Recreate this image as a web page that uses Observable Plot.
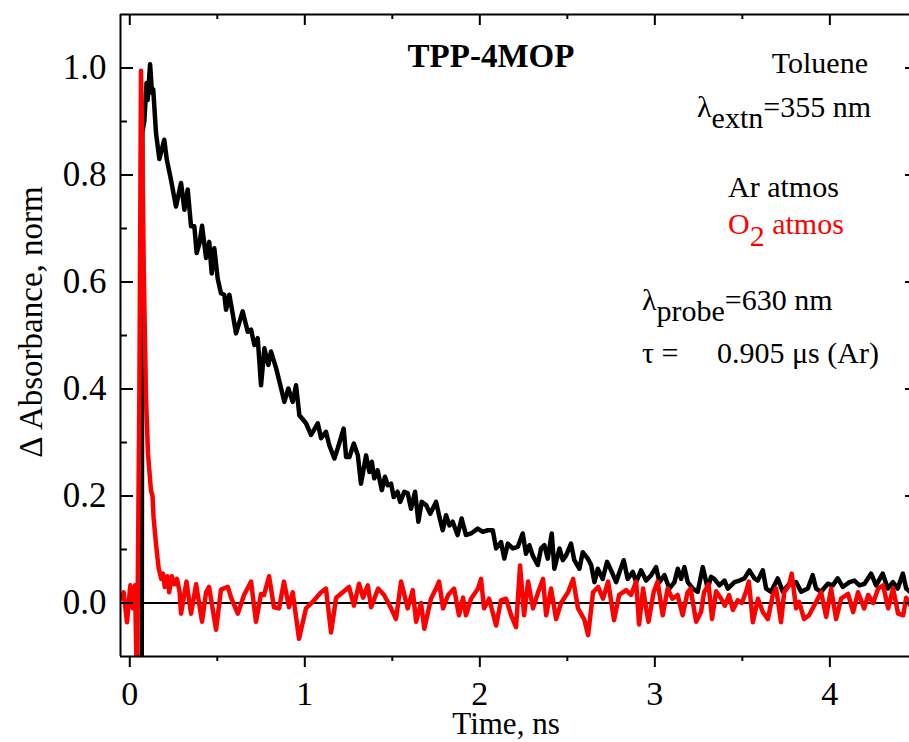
<!DOCTYPE html>
<html><head><meta charset="utf-8">
<script src="https://cdn.jsdelivr.net/npm/d3@7"></script>
<script src="https://cdn.jsdelivr.net/npm/@observablehq/plot@0.6"></script>
<style>body{margin:0;background:#fff}</style>
</head><body><div id="chart"></div>
<script>
// Ar atmosphere trace (black): [time ns, ΔA norm]
const argonTrace = [
[0.068,-0.2],[0.072,0.88],[0.083,0.90],[0.096,0.972],[0.102,0.94],[0.116,1.007],[0.127,0.953],[0.134,0.96],[0.150,0.878],[0.169,0.83],
[0.197,0.866],[0.211,0.83],[0.236,0.79],[0.264,0.741],[0.293,0.785],[0.312,0.735],[0.331,0.773],[0.350,0.704],[0.369,0.704],[0.382,0.654],
[0.398,0.672],[0.413,0.705],[0.436,0.645],[0.454,0.675],[0.468,0.616],[0.483,0.663],[0.502,0.607],[0.521,0.579],[0.540,0.576],[0.550,0.548],
[0.569,0.576],[0.588,0.541],[0.607,0.504],[0.645,0.545],[0.674,0.507],[0.693,0.511],[0.712,0.482],[0.731,0.495],[0.750,0.407],[0.769,0.476],
[0.792,0.445],[0.807,0.47],[0.836,0.439],[0.855,0.414],[0.883,0.376],[0.906,0.401],[0.931,0.376],[0.950,0.407],[0.969,0.351],[1.007,0.336],
[1.036,0.314],[1.074,0.336],[1.093,0.308],[1.121,0.32],[1.140,0.295],[1.169,0.27],[1.188,0.289],[1.222,0.326],[1.236,0.273],[1.255,0.273],
[1.280,0.298],[1.303,0.276],[1.321,0.223],[1.350,0.276],[1.369,0.245],[1.383,0.264],[1.397,0.233],[1.416,0.248],[1.440,0.211],[1.458,0.236],
[1.474,0.22],[1.493,0.223],[1.508,0.198],[1.530,0.208],[1.545,0.189],[1.569,0.208],[1.588,0.205],[1.607,0.176],[1.630,0.208],[1.649,0.152],
[1.668,0.189],[1.693,0.183],[1.717,0.167],[1.750,0.189],[1.769,0.161],[1.788,0.136],[1.807,0.164],[1.826,0.145],[1.845,0.152],[1.873,0.127],
[1.896,0.158],[1.921,0.127],[1.950,0.13],[1.988,0.139],[2.017,0.133],[2.045,0.136],[2.074,0.136],[2.093,0.102],[2.121,0.114],[2.140,0.083],
[2.160,0.111],[2.188,0.102],[2.217,0.105],[2.245,0.13],[2.264,0.092],[2.283,0.108],[2.302,0.089],[2.331,0.071],[2.350,0.102],[2.369,0.108],
[2.388,0.083],[2.411,0.13],[2.426,0.064],[2.455,0.102],[2.474,0.08],[2.493,0.089],[2.521,0.111],[2.540,0.08],[2.569,0.064],[2.588,0.095],
[2.617,0.083],[2.636,0.071],[2.655,0.039],[2.674,0.064],[2.702,0.045],[2.727,0.077],[2.750,0.061],[2.779,0.039],[2.798,0.058],[2.822,0.08],
[2.845,0.045],[2.874,0.058],[2.893,0.039],[2.921,0.061],[2.950,0.042],[2.979,0.052],[3.007,0.067],[3.026,0.039],[3.055,0.052],[3.083,0.027],
[3.112,0.039],[3.131,0.064],[3.150,0.045],[3.169,0.067],[3.188,0.039],[3.217,0.027],[3.245,0.021],[3.274,0.067],[3.302,0.027],[3.321,0.049],
[3.340,0.045],[3.369,0.033],[3.398,0.042],[3.417,0.027],[3.455,0.039],[3.483,0.042],[3.512,0.046],[3.540,0.061],[3.569,0.046],[3.588,0.042],
[3.617,0.061],[3.636,0.027],[3.664,0.021],[3.702,0.046],[3.731,0.021],[3.769,0.036],[3.807,0.039],[3.836,0.021],[3.874,0.027],[3.902,0.052],
[3.921,0.027],[3.950,0.021],[3.988,0.036],[4.017,0.033],[4.045,0.046],[4.074,0.03],[4.112,0.039],[4.140,0.042],[4.169,0.033],[4.198,0.036],
[4.236,0.055],[4.264,0.033],[4.302,0.055],[4.331,0.027],[4.360,0.039],[4.388,0.027],[4.417,0.055],[4.436,0.027],[4.458,0.021]
];
// O2 atmosphere trace (red): [time ns, ΔA norm]
const oxygenTrace = [
[-0.05,0.008],[-0.035,0.02],[-0.016,-0.036],[0.003,0.033],[0.017,-0.01],[0.030,0.033],[0.041,-0.16],[0.055,0.4],[0.064,0.995],[0.072,0.85],
[0.080,0.62],[0.093,0.38],[0.104,0.28],[0.121,0.21],[0.130,0.20],[0.136,0.16],[0.150,0.11],[0.165,0.065],[0.180,0.045],[0.190,0.055],
[0.200,0.03],[0.215,0.05],[0.225,0.02],[0.240,0.05],[0.255,0.035],[0.270,0.045],[0.285,0.02],[0.293,-0.02],[0.324,0.04],[0.350,-0.02],
[0.379,0.035],[0.413,-0.035],[0.436,0.02],[0.453,0.03],[0.493,-0.05],[0.521,0.025],[0.560,0.03],[0.579,0.01],[0.617,-0.02],[0.653,0.015],
[0.693,0.04],[0.721,-0.035],[0.750,0.017],[0.767,0.015],[0.796,0.05],[0.824,-0.008],[0.853,-0.01],[0.881,0.04],[0.910,-0.008],[0.931,0.02],
[0.967,-0.067],[1.007,-0.01],[1.053,0.005],[1.093,0.02],[1.121,0.027],[1.150,-0.055],[1.179,0.01],[1.217,0.02],[1.253,0.03],[1.281,-0.005],
[1.310,0.036],[1.333,0.01],[1.360,0.033],[1.379,-0.008],[1.419,0.027],[1.453,0.015],[1.493,-0.01],[1.521,-0.03],[1.550,0.04],[1.588,-0.01],
[1.617,0.024],[1.636,-0.035],[1.664,0.0],[1.683,-0.048],[1.721,0.008],[1.750,0.027],[1.767,0.04],[1.790,-0.01],[1.819,0.015],[1.853,0.027],
[1.881,-0.023],[1.904,0.01],[1.921,-0.023],[1.950,0.008],[1.990,0.027],[2.007,0.045],[2.024,-0.01],[2.053,0.008],[2.093,-0.042],[2.121,0.005],
[2.150,0.008],[2.179,-0.023],[2.207,-0.045],[2.230,0.07],[2.253,-0.023],[2.276,0.04],[2.304,-0.01],[2.333,0.02],[2.361,0.045],[2.379,-0.023],
[2.407,0.027],[2.436,-0.03],[2.464,0.0],[2.504,0.02],[2.533,0.045],[2.561,-0.01],[2.596,-0.03],[2.619,-0.06],[2.647,0.02],[2.676,0.03],
[2.704,0.008],[2.733,0.04],[2.767,-0.032],[2.796,0.015],[2.836,0.024],[2.864,0.015],[2.893,0.04],[2.910,-0.04],[2.933,0.027],[2.950,-0.01],
[2.964,-0.035],[2.993,0.02],[3.016,0.04],[3.045,-0.023],[3.073,0.027],[3.100,0.008],[3.130,0.015],[3.159,-0.023],[3.187,0.02],[3.204,0.027],
[3.236,-0.035],[3.264,-0.017],[3.281,0.02],[3.307,0.035],[3.327,-0.03],[3.350,0.022],[3.379,0.008],[3.400,-0.005],[3.424,0.015],[3.446,-0.013],
[3.474,0.005],[3.497,0.0],[3.520,0.02],[3.537,0.04],[3.560,-0.036],[3.589,0.008],[3.617,-0.017],[3.646,-0.03],[3.674,0.015],[3.693,0.027],
[3.721,-0.036],[3.739,0.02],[3.767,0.033],[3.782,0.055],[3.807,-0.01],[3.824,0.002],[3.853,-0.03],[3.881,-0.023],[3.910,-0.005],[3.950,0.02],
[3.979,-0.026],[4.007,0.027],[4.036,-0.03],[4.064,0.008],[4.104,0.017],[4.133,-0.017],[4.161,0.02],[4.196,-0.01],[4.219,0.015],[4.247,0.0],
[4.276,0.027],[4.304,0.033],[4.333,-0.01],[4.361,0.027],[4.390,-0.02],[4.419,-0.023],[4.436,0.01],[4.459,-0.004]
];
const xMajorTicks = [0, 1, 2, 3, 4];
const xMinorTicks = [0.5, 1.5, 2.5, 3.5];
const yMajorTicks = [0.0, 0.2, 0.4, 0.6, 0.8, 1.0];
const yMinorTicks = [0.1, 0.3, 0.5, 0.7, 0.9];
const xDomain = [-0.053, 4.455];
const yDomain = [-0.1, 1.1];

const W = 909, H = 742, mL = 120, mR = 0, mT = 14, mB = 86;
const plotW = W - mL - mR, plotH = H - mT - mB;
const FONT = "'Liberation Serif', 'Times New Roman', serif";

const chart = Plot.plot({
  width: W, height: H,
  marginLeft: mL, marginRight: mR, marginTop: mT, marginBottom: mB,
  x: {domain: xDomain},
  y: {domain: yDomain},
  style: {fontFamily: FONT, background: "white", color: "black"},
  marks: [
    Plot.ruleY([0], {stroke: "black", strokeWidth: 2}),
    Plot.line(argonTrace, {x: d => d[0], y: d => d[1], stroke: "black", strokeWidth: 4.5, clip: true, strokeLinejoin: "round"}),
    Plot.line(oxygenTrace, {x: d => d[0], y: d => d[1], stroke: "#ff0000", strokeWidth: 4.5, clip: true, strokeLinejoin: "round"}),
    Plot.ruleX([xDomain[0]], {stroke: "black", strokeWidth: 2}),
    Plot.ruleY(yDomain, {stroke: "black", strokeWidth: 2}),
    Plot.axisX(xMajorTicks, {anchor: "bottom", tickSize: 11, tickPadding: 13, fontSize: 34, fontFamily: FONT, strokeWidth: 2, tickFormat: d => String(d), label: null}),
    Plot.axisX(xMinorTicks, {anchor: "bottom", tickSize: 5, strokeWidth: 2, tickFormat: () => "", label: null}),
    Plot.ruleX(xMajorTicks, {insetBottom: plotH - 11, stroke: "black", strokeWidth: 2}),
    Plot.ruleX(xMinorTicks, {insetBottom: plotH - 5, stroke: "black", strokeWidth: 2}),
    Plot.axisY(yMajorTicks, {anchor: "left", tickSize: 0, tickPadding: 14, fontSize: 35, fontFamily: FONT, tickFormat: d3.format(".1f"), label: null}),
    Plot.ruleY(yMajorTicks, {insetRight: plotW - 13, stroke: "black", strokeWidth: 2}),
    Plot.ruleY(yMinorTicks, {insetRight: plotW - 7, stroke: "black", strokeWidth: 2}),
    Plot.ruleY(yMajorTicks, {insetLeft: plotW - 4, stroke: "black", strokeWidth: 2})
  ]
});
document.getElementById("chart").appendChild(chart);

const svg = d3.select(chart);
function label(x, y, parts, opts = {}) {
  const t = svg.append("text")
    .attr("x", x).attr("y", y)
    .style("font-family", FONT)
    .attr("font-size", opts.size || 30)
    .attr("fill", opts.fill || "black")
    .attr("text-anchor", opts.anchor || "start")
    .attr("font-weight", opts.weight || "normal");
  if (opts.transform) t.attr("transform", opts.transform).attr("x", 0).attr("y", 0);
  let cur = 0;
  for (const p of parts) {
    const s = typeof p === "string" ? {t: p, dy: 0} : p;
    const ts = t.append("tspan").text(s.t);
    const d = (s.dy || 0) - cur;
    if (d) ts.attr("dy", d);
    cur = s.dy || 0;
  }
  return t;
}
label(491, 67, ["TPP-4MOP"], {anchor: "middle", weight: "bold", size: 33});
label(868, 73, ["Toluene"], {anchor: "end"});
label(871, 117, ["λ", {t: "extn", dy: 11}, {t: "=355 nm", dy: 0}], {anchor: "end"});
label(728, 197, ["Ar atmos"]);
label(728, 234, ["O", {t: "2", dy: 12}, {t: " atmos", dy: 0}], {fill: "#ff0000"});
label(642, 310, ["λ", {t: "probe", dy: 11}, {t: "=630 nm", dy: 0}]);
label(642, 363, ["τ ="]);
label(717, 363, ["0.905 μs (Ar)"]);
label(0, 0, ["Δ Absorbance, norm"], {anchor: "middle", size: 33, transform: "translate(42,322) rotate(-90)"});
label(506, 734, ["Time, ns"], {anchor: "middle", size: 31});
</script>
</body></html>
